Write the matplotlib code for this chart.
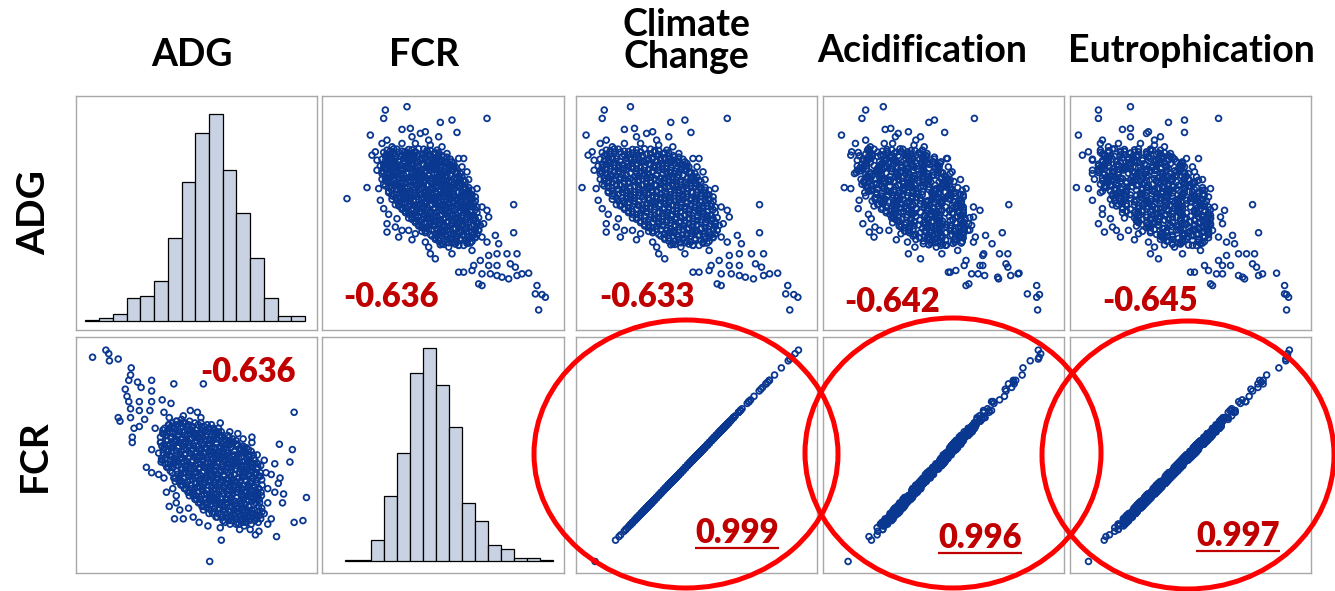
# Scatter plot matrix: ADG / FCR against environmental impacts
import numpy as np
import matplotlib
matplotlib.use("Agg")
import matplotlib.pyplot as plt
from matplotlib.patches import Ellipse

plt.rcParams['font.family'] = ['Lato', 'DejaVu Sans']

# ---- data (one entry per animal) ----
# FCR (kg feed / kg gain)
fcr = [
    2.38, 2.51, 2.37, 2.99, 2.71, 2.78, 2.81, 2.29, 2.48, 2.53,
    2.54, 2.59, 2.62, 2.70, 2.64, 2.15, 2.27, 2.34, 2.33, 2.32,
    2.30, 2.36, 2.39, 2.39, 2.39, 2.37, 2.40, 2.45, 2.54, 2.52,
    3.15, 3.15, 2.93, 2.87, 2.88, 2.85, 2.82, 3.00, 2.99, 3.04,
    3.06, 3.05, 3.11, 3.17, 3.00, 2.95, 3.00, 3.05, 3.13, 3.16,
    3.20, 3.24, 3.17, 3.12, 3.08, 3.05, 2.94, 2.96, 2.82, 2.85,
    2.91, 2.90, 2.96, 3.01, 2.78, 2.72, 2.68, 2.65, 2.64, 2.62,
    2.76, 2.82, 2.87, 2.90, 3.29, 3.28, 3.32, 3.34, 3.30, 2.92,
    2.96, 2.97, 2.94, 2.92, 2.96, 2.99, 2.69, 2.75, 2.78, 2.84,
    2.90, 2.46, 2.44, 2.48, 2.56, 2.60, 2.35, 2.36, 2.33, 2.42,
    2.48, 2.56, 2.65, 2.72,
    2.39, 2.43, 2.48, 2.52, 2.56, 2.61, 2.65,
    2.38, 2.42, 2.47, 2.51, 2.55, 2.60, 2.64, 2.68, 2.72, 2.75,
    2.37, 2.41, 2.45, 2.50, 2.54, 2.58, 2.63, 2.67, 2.71, 2.76, 2.79,
    2.39, 2.43, 2.47, 2.52, 2.56, 2.60, 2.65, 2.69, 2.73, 2.78, 2.81,
    2.38, 2.42, 2.46, 2.51, 2.55, 2.59, 2.64, 2.68, 2.72, 2.77, 2.81, 2.84,
    2.40, 2.44, 2.48, 2.53, 2.57, 2.61, 2.66, 2.70, 2.74, 2.79, 2.83, 2.86,
    2.40, 2.45, 2.49, 2.53, 2.58, 2.62, 2.66, 2.71, 2.75, 2.79, 2.84, 2.88,
    2.42, 2.47, 2.51, 2.55, 2.60, 2.64, 2.68, 2.73, 2.77, 2.81, 2.86, 2.90,
    2.44, 2.48, 2.53, 2.57, 2.61, 2.66, 2.70, 2.74, 2.79, 2.83, 2.87, 2.91,
    2.48, 2.52, 2.57, 2.61, 2.65, 2.70, 2.74, 2.78, 2.83, 2.87, 2.92,
    2.52, 2.56, 2.61, 2.65, 2.69, 2.74, 2.78, 2.82, 2.87, 2.91, 2.94,
    2.56, 2.60, 2.65, 2.69, 2.73, 2.78, 2.82, 2.86, 2.91, 2.95,
    2.60, 2.64, 2.69, 2.73, 2.77, 2.82, 2.86, 2.90, 2.94,
    2.66, 2.70, 2.75, 2.79, 2.83, 2.88, 2.92,
    2.71, 2.76, 2.80, 2.85, 2.89,
    2.37, 2.41, 2.46, 2.50, 2.54, 2.59, 2.63, 2.67, 2.70,
    2.36, 2.40, 2.44, 2.49, 2.53, 2.57, 2.62, 2.66, 2.70, 2.74, 2.77,
    2.35, 2.39, 2.43, 2.48, 2.52, 2.56, 2.61, 2.65, 2.69, 2.74, 2.78, 2.80,
    2.37, 2.41, 2.45, 2.49, 2.54, 2.58, 2.62, 2.67, 2.71, 2.75, 2.80, 2.83,
    2.36, 2.40, 2.46, 2.50, 2.55, 2.59, 2.63, 2.68, 2.72, 2.76, 2.81, 2.85,
    2.38, 2.42, 2.46, 2.51, 2.55, 2.59, 2.64, 2.68, 2.72, 2.77, 2.81, 2.85, 2.88,
    2.40, 2.43, 2.47, 2.51, 2.56, 2.60, 2.64, 2.69, 2.73, 2.77, 2.82, 2.86, 2.89,
    2.42, 2.45, 2.49, 2.53, 2.58, 2.62, 2.66, 2.71, 2.75, 2.79, 2.84, 2.88, 2.92,
    2.46, 2.50, 2.55, 2.59, 2.63, 2.68, 2.72, 2.76, 2.81, 2.85, 2.89, 2.93,
    2.50, 2.54, 2.59, 2.63, 2.67, 2.72, 2.76, 2.80, 2.85, 2.89, 2.93,
    2.54, 2.58, 2.63, 2.67, 2.71, 2.76, 2.80, 2.84, 2.89, 2.93,
    2.58, 2.62, 2.67, 2.71, 2.75, 2.80, 2.84, 2.88, 2.93,
    2.62, 2.68, 2.72, 2.77, 2.81, 2.85, 2.90, 2.93,
    2.68, 2.73, 2.77, 2.81, 2.86, 2.90,
    2.41, 2.45, 2.50, 2.54, 2.58, 2.63,
    2.39, 2.43, 2.48, 2.52, 2.56, 2.61, 2.65, 2.68,
    2.40, 2.44, 2.49, 2.53, 2.57, 2.62, 2.66, 2.70, 2.73,
    2.38, 2.42, 2.46, 2.51, 2.55, 2.59, 2.64, 2.68, 2.72, 2.75,
    2.39, 2.43, 2.47, 2.52, 2.56, 2.60, 2.65, 2.69, 2.73, 2.77,
    2.37, 2.41, 2.45, 2.50, 2.54, 2.58, 2.63, 2.67, 2.71, 2.76, 2.79,
    2.36, 2.41, 2.45, 2.49, 2.54, 2.58, 2.62, 2.67, 2.71, 2.75, 2.79,
    2.39, 2.43, 2.47, 2.51, 2.56, 2.60, 2.64, 2.69, 2.73, 2.77, 2.81,
    2.40, 2.44, 2.48, 2.53, 2.57, 2.61, 2.66, 2.70, 2.74, 2.79, 2.82,
    2.38, 2.43, 2.48, 2.52, 2.57, 2.61, 2.65, 2.70, 2.74, 2.78, 2.83,
    2.37, 2.42, 2.46, 2.50, 2.55, 2.59, 2.63, 2.68, 2.72, 2.76, 2.81, 2.84,
    2.40, 2.44, 2.48, 2.53, 2.57, 2.61, 2.66, 2.70, 2.74, 2.79, 2.83, 2.86,
    2.42, 2.47, 2.51, 2.55, 2.60, 2.64, 2.68, 2.73, 2.77, 2.81, 2.86,
    2.45, 2.49, 2.53, 2.58, 2.62, 2.66, 2.71, 2.75, 2.79, 2.84, 2.88,
    2.44, 2.49, 2.53, 2.57, 2.62, 2.66, 2.70, 2.75, 2.79, 2.83, 2.88,
    2.47, 2.51, 2.55, 2.60, 2.64, 2.68, 2.73, 2.77, 2.81, 2.86, 2.90,
    2.46, 2.50, 2.55, 2.59, 2.63, 2.68, 2.72, 2.76, 2.81, 2.85, 2.89,
    2.48, 2.52, 2.57, 2.61, 2.65, 2.70, 2.74, 2.78, 2.83, 2.87, 2.91,
    2.50, 2.54, 2.59, 2.63, 2.67, 2.72, 2.76, 2.80, 2.85, 2.89,
    2.52, 2.56, 2.61, 2.65, 2.69, 2.74, 2.78, 2.82, 2.87, 2.91,
    2.54, 2.58, 2.63, 2.67, 2.71, 2.76, 2.80, 2.84, 2.89, 2.92,
    2.56, 2.60, 2.65, 2.69, 2.73, 2.78, 2.82, 2.86, 2.91,
    2.58, 2.62, 2.67, 2.71, 2.75, 2.80, 2.84, 2.88, 2.93,
    2.60, 2.64, 2.69, 2.73, 2.77, 2.82, 2.86, 2.90,
    2.62, 2.66, 2.71, 2.75, 2.79, 2.84, 2.88, 2.92,
    2.65, 2.70, 2.74, 2.79, 2.83, 2.87, 2.91,
    2.68, 2.72, 2.77, 2.81, 2.85, 2.90,
    2.70, 2.75, 2.79, 2.83, 2.88,
    2.73, 2.78, 2.82, 2.87,
]

# ADG (kg / day)
adg = [
    1.158, 1.168, 1.133, 1.133, 1.121, 1.128, 1.091, 1.083, 1.100, 1.103,
    1.078, 1.088, 1.093, 1.078, 1.068, 0.893, 0.926, 0.923, 0.978, 1.033,
    1.023, 1.058, 1.068, 0.818, 0.793, 0.863, 0.846, 0.833, 0.770, 0.798,
    0.875, 0.791, 0.923, 0.973, 0.950, 1.013, 1.013, 0.838, 0.858, 0.783,
    0.758, 0.728, 0.728, 0.728, 0.723, 0.708, 0.693, 0.693, 0.698, 0.688,
    0.668, 0.670, 0.663, 0.653, 0.658, 0.663, 0.638, 0.633, 0.673, 0.673,
    0.693, 0.678, 0.668, 0.668, 0.728, 0.758, 0.713, 0.728, 0.748, 0.763,
    0.748, 0.753, 0.763, 0.738, 0.633, 0.608, 0.606, 0.598, 0.560, 0.898,
    0.868, 0.818, 0.798, 0.778, 0.778, 0.763, 1.038, 1.028, 1.003, 0.988,
    0.918, 0.778, 0.808, 0.798, 0.788, 0.808, 0.888, 0.968, 1.008, 1.048,
    1.058, 1.058, 1.053, 1.048,
    1.038, 1.042, 1.035, 1.040, 1.033, 1.041, 1.037,
    1.021, 1.014, 1.019, 1.016, 1.023, 1.013, 1.020, 1.015, 1.022, 1.017,
    0.996, 1.002, 0.994, 1.000, 0.997, 1.003, 0.993, 0.999, 1.001, 0.995, 0.998,
    0.981, 0.975, 0.979, 0.983, 0.974, 0.980, 0.977, 0.982, 0.976, 0.978, 0.972,
    0.955, 0.961, 0.957, 0.953, 0.960, 0.956, 0.962, 0.954, 0.959, 0.963, 0.952, 0.958,
    0.941, 0.935, 0.939, 0.943, 0.934, 0.940, 0.936, 0.942, 0.937, 0.933, 0.940, 0.944,
    0.915, 0.921, 0.917, 0.913, 0.920, 0.916, 0.922, 0.914, 0.919, 0.923, 0.912, 0.918,
    0.901, 0.895, 0.899, 0.903, 0.894, 0.900, 0.896, 0.902, 0.897, 0.893, 0.900, 0.904,
    0.875, 0.881, 0.877, 0.873, 0.880, 0.876, 0.882, 0.874, 0.879, 0.883, 0.872, 0.878,
    0.861, 0.855, 0.859, 0.863, 0.854, 0.860, 0.856, 0.862, 0.857, 0.853, 0.860,
    0.835, 0.841, 0.837, 0.833, 0.840, 0.836, 0.842, 0.834, 0.839, 0.843, 0.836,
    0.821, 0.815, 0.819, 0.823, 0.814, 0.820, 0.816, 0.822, 0.817, 0.813,
    0.795, 0.801, 0.797, 0.793, 0.800, 0.796, 0.802, 0.794, 0.799,
    0.781, 0.775, 0.779, 0.783, 0.774, 0.780, 0.776,
    0.755, 0.761, 0.757, 0.753, 0.760,
    1.031, 1.026, 1.032, 1.024, 1.029, 1.025, 1.033, 1.027, 1.030,
    1.011, 1.006, 1.012, 1.004, 1.009, 1.005, 1.013, 1.007, 1.010, 1.003, 1.011,
    0.991, 0.986, 0.992, 0.984, 0.989, 0.985, 0.993, 0.987, 0.990, 0.983, 0.991, 0.988,
    0.971, 0.966, 0.972, 0.964, 0.969, 0.965, 0.973, 0.967, 0.970, 0.963, 0.971, 0.968,
    0.951, 0.946, 0.952, 0.944, 0.949, 0.945, 0.953, 0.947, 0.950, 0.943, 0.951, 0.948,
    0.931, 0.926, 0.932, 0.924, 0.929, 0.925, 0.933, 0.927, 0.930, 0.923, 0.931, 0.928, 0.926,
    0.911, 0.906, 0.912, 0.904, 0.909, 0.905, 0.913, 0.907, 0.910, 0.903, 0.911, 0.908, 0.906,
    0.891, 0.886, 0.892, 0.884, 0.889, 0.885, 0.893, 0.887, 0.890, 0.883, 0.891, 0.888, 0.886,
    0.871, 0.866, 0.872, 0.864, 0.869, 0.865, 0.873, 0.867, 0.870, 0.863, 0.871, 0.868,
    0.851, 0.846, 0.852, 0.844, 0.849, 0.845, 0.853, 0.847, 0.850, 0.843, 0.851,
    0.831, 0.826, 0.832, 0.824, 0.829, 0.825, 0.833, 0.827, 0.830, 0.823,
    0.811, 0.806, 0.812, 0.804, 0.809, 0.805, 0.813, 0.807, 0.810,
    0.791, 0.786, 0.792, 0.784, 0.789, 0.785, 0.793, 0.787,
    0.771, 0.766, 0.772, 0.764, 0.769, 0.765,
    1.036, 1.041, 1.034, 1.039, 1.042, 1.037,
    1.026, 1.031, 1.024, 1.029, 1.032, 1.027, 1.025, 1.030,
    1.016, 1.021, 1.014, 1.019, 1.022, 1.017, 1.015, 1.020, 1.018,
    1.006, 1.011, 1.004, 1.009, 1.012, 1.007, 1.005, 1.010, 1.008, 1.003,
    0.996, 1.001, 0.994, 0.999, 1.002, 0.997, 0.995, 1.000, 0.998, 0.993,
    0.986, 0.991, 0.984, 0.989, 0.992, 0.987, 0.985, 0.990, 0.988, 0.983, 0.990,
    0.976, 0.981, 0.974, 0.979, 0.982, 0.977, 0.975, 0.980, 0.978, 0.973, 0.980,
    0.966, 0.971, 0.964, 0.969, 0.972, 0.967, 0.965, 0.970, 0.968, 0.963, 0.970,
    0.956, 0.961, 0.954, 0.959, 0.962, 0.957, 0.955, 0.960, 0.958, 0.953, 0.960,
    0.946, 0.951, 0.944, 0.949, 0.952, 0.947, 0.945, 0.950, 0.948, 0.943, 0.950,
    0.936, 0.941, 0.934, 0.939, 0.942, 0.937, 0.935, 0.940, 0.938, 0.933, 0.940, 0.936,
    0.926, 0.931, 0.924, 0.929, 0.932, 0.927, 0.925, 0.930, 0.928, 0.923, 0.930, 0.926,
    0.916, 0.921, 0.914, 0.919, 0.922, 0.917, 0.915, 0.920, 0.918, 0.913, 0.920,
    0.906, 0.911, 0.904, 0.909, 0.912, 0.907, 0.905, 0.910, 0.908, 0.903, 0.910,
    0.896, 0.901, 0.894, 0.899, 0.902, 0.897, 0.895, 0.900, 0.898, 0.893, 0.900,
    0.886, 0.891, 0.884, 0.889, 0.892, 0.887, 0.885, 0.890, 0.888, 0.883, 0.890,
    0.876, 0.881, 0.874, 0.879, 0.882, 0.877, 0.875, 0.880, 0.878, 0.873, 0.880,
    0.866, 0.871, 0.864, 0.869, 0.872, 0.867, 0.865, 0.870, 0.868, 0.863, 0.870,
    0.856, 0.861, 0.854, 0.859, 0.862, 0.857, 0.855, 0.860, 0.858, 0.853,
    0.846, 0.851, 0.844, 0.849, 0.852, 0.847, 0.845, 0.850, 0.848, 0.843,
    0.836, 0.841, 0.834, 0.839, 0.842, 0.837, 0.835, 0.840, 0.838, 0.833,
    0.826, 0.831, 0.824, 0.829, 0.832, 0.827, 0.825, 0.830, 0.828,
    0.816, 0.821, 0.814, 0.819, 0.822, 0.817, 0.815, 0.820, 0.818,
    0.806, 0.811, 0.804, 0.809, 0.812, 0.807, 0.805, 0.810,
    0.796, 0.801, 0.794, 0.799, 0.802, 0.797, 0.795, 0.800,
    0.786, 0.791, 0.784, 0.789, 0.792, 0.787, 0.785,
    0.776, 0.781, 0.774, 0.779, 0.782, 0.777,
    0.766, 0.771, 0.764, 0.769, 0.772,
    0.756, 0.761, 0.754, 0.759,
]

# Climate change (kg CO2-eq / kg)
climate = [
    3.56, 3.82, 3.54, 4.78, 4.22, 4.36, 4.42, 3.38, 3.76, 3.86,
    3.88, 3.98, 4.04, 4.20, 4.08, 3.10, 3.34, 3.48, 3.46, 3.44,
    3.40, 3.52, 3.58, 3.58, 3.58, 3.54, 3.60, 3.70, 3.88, 3.84,
    5.10, 5.10, 4.66, 4.54, 4.56, 4.50, 4.44, 4.80, 4.78, 4.88,
    4.92, 4.90, 5.02, 5.14, 4.80, 4.70, 4.80, 4.90, 5.06, 5.12,
    5.20, 5.28, 5.14, 5.04, 4.96, 4.90, 4.68, 4.72, 4.44, 4.50,
    4.62, 4.60, 4.72, 4.82, 4.36, 4.24, 4.16, 4.10, 4.08, 4.04,
    4.32, 4.44, 4.54, 4.60, 5.38, 5.36, 5.44, 5.48, 5.40, 4.64,
    4.72, 4.74, 4.68, 4.64, 4.72, 4.78, 4.18, 4.30, 4.36, 4.48,
    4.60, 3.72, 3.68, 3.76, 3.92, 4.00, 3.50, 3.52, 3.46, 3.64,
    3.76, 3.92, 4.10, 4.24,
    3.58, 3.66, 3.76, 3.84, 3.92, 4.02, 4.10,
    3.56, 3.64, 3.74, 3.82, 3.90, 4.00, 4.08, 4.16, 4.24, 4.30,
    3.54, 3.62, 3.70, 3.80, 3.88, 3.96, 4.06, 4.14, 4.22, 4.32, 4.38,
    3.58, 3.66, 3.74, 3.84, 3.92, 4.00, 4.10, 4.18, 4.26, 4.36, 4.42,
    3.56, 3.64, 3.72, 3.82, 3.90, 3.98, 4.08, 4.16, 4.24, 4.34, 4.42, 4.48,
    3.60, 3.68, 3.76, 3.86, 3.94, 4.02, 4.12, 4.20, 4.28, 4.38, 4.46, 4.52,
    3.60, 3.70, 3.78, 3.86, 3.96, 4.04, 4.12, 4.22, 4.30, 4.38, 4.48, 4.56,
    3.64, 3.74, 3.82, 3.90, 4.00, 4.08, 4.16, 4.26, 4.34, 4.42, 4.52, 4.60,
    3.68, 3.76, 3.86, 3.94, 4.02, 4.12, 4.20, 4.28, 4.38, 4.46, 4.54, 4.62,
    3.76, 3.84, 3.94, 4.02, 4.10, 4.20, 4.28, 4.36, 4.46, 4.54, 4.64,
    3.84, 3.92, 4.02, 4.10, 4.18, 4.28, 4.36, 4.44, 4.54, 4.62, 4.68,
    3.92, 4.00, 4.10, 4.18, 4.26, 4.36, 4.44, 4.52, 4.62, 4.70,
    4.00, 4.08, 4.18, 4.26, 4.34, 4.44, 4.52, 4.60, 4.68,
    4.12, 4.20, 4.30, 4.38, 4.46, 4.56, 4.64,
    4.22, 4.32, 4.40, 4.50, 4.58,
    3.54, 3.62, 3.72, 3.80, 3.88, 3.98, 4.06, 4.14, 4.20,
    3.52, 3.60, 3.68, 3.78, 3.86, 3.94, 4.04, 4.12, 4.20, 4.28, 4.34,
    3.50, 3.58, 3.66, 3.76, 3.84, 3.92, 4.02, 4.10, 4.18, 4.28, 4.36, 4.40,
    3.54, 3.62, 3.70, 3.78, 3.88, 3.96, 4.04, 4.14, 4.22, 4.30, 4.40, 4.46,
    3.52, 3.60, 3.72, 3.80, 3.90, 3.98, 4.06, 4.16, 4.24, 4.32, 4.42, 4.50,
    3.56, 3.64, 3.72, 3.82, 3.90, 3.98, 4.08, 4.16, 4.24, 4.34, 4.42, 4.50, 4.56,
    3.60, 3.66, 3.74, 3.82, 3.92, 4.00, 4.08, 4.18, 4.26, 4.34, 4.44, 4.52, 4.58,
    3.64, 3.70, 3.78, 3.86, 3.96, 4.04, 4.12, 4.22, 4.30, 4.38, 4.48, 4.56, 4.64,
    3.72, 3.80, 3.90, 3.98, 4.06, 4.16, 4.24, 4.32, 4.42, 4.50, 4.58, 4.66,
    3.80, 3.88, 3.98, 4.06, 4.14, 4.24, 4.32, 4.40, 4.50, 4.58, 4.66,
    3.88, 3.96, 4.06, 4.14, 4.22, 4.32, 4.40, 4.48, 4.58, 4.66,
    3.96, 4.04, 4.14, 4.22, 4.30, 4.40, 4.48, 4.56, 4.66,
    4.04, 4.16, 4.24, 4.34, 4.42, 4.50, 4.60, 4.66,
    4.16, 4.26, 4.34, 4.42, 4.52, 4.60,
    3.62, 3.70, 3.80, 3.88, 3.96, 4.06,
    3.58, 3.66, 3.76, 3.84, 3.92, 4.02, 4.10, 4.16,
    3.60, 3.68, 3.78, 3.86, 3.94, 4.04, 4.12, 4.20, 4.26,
    3.56, 3.64, 3.72, 3.82, 3.90, 3.98, 4.08, 4.16, 4.24, 4.30,
    3.58, 3.66, 3.74, 3.84, 3.92, 4.00, 4.10, 4.18, 4.26, 4.34,
    3.54, 3.62, 3.70, 3.80, 3.88, 3.96, 4.06, 4.14, 4.22, 4.32, 4.38,
    3.52, 3.62, 3.70, 3.78, 3.88, 3.96, 4.04, 4.14, 4.22, 4.30, 4.38,
    3.58, 3.66, 3.74, 3.82, 3.92, 4.00, 4.08, 4.18, 4.26, 4.34, 4.42,
    3.60, 3.68, 3.76, 3.86, 3.94, 4.02, 4.12, 4.20, 4.28, 4.38, 4.44,
    3.56, 3.66, 3.76, 3.84, 3.94, 4.02, 4.10, 4.20, 4.28, 4.36, 4.46,
    3.54, 3.64, 3.72, 3.80, 3.90, 3.98, 4.06, 4.16, 4.24, 4.32, 4.42, 4.48,
    3.60, 3.68, 3.76, 3.86, 3.94, 4.02, 4.12, 4.20, 4.28, 4.38, 4.46, 4.52,
    3.64, 3.74, 3.82, 3.90, 4.00, 4.08, 4.16, 4.26, 4.34, 4.42, 4.52,
    3.70, 3.78, 3.86, 3.96, 4.04, 4.12, 4.22, 4.30, 4.38, 4.48, 4.56,
    3.68, 3.78, 3.86, 3.94, 4.04, 4.12, 4.20, 4.30, 4.38, 4.46, 4.56,
    3.74, 3.82, 3.90, 4.00, 4.08, 4.16, 4.26, 4.34, 4.42, 4.52, 4.60,
    3.72, 3.80, 3.90, 3.98, 4.06, 4.16, 4.24, 4.32, 4.42, 4.50, 4.58,
    3.76, 3.84, 3.94, 4.02, 4.10, 4.20, 4.28, 4.36, 4.46, 4.54, 4.62,
    3.80, 3.88, 3.98, 4.06, 4.14, 4.24, 4.32, 4.40, 4.50, 4.58,
    3.84, 3.92, 4.02, 4.10, 4.18, 4.28, 4.36, 4.44, 4.54, 4.62,
    3.88, 3.96, 4.06, 4.14, 4.22, 4.32, 4.40, 4.48, 4.58, 4.64,
    3.92, 4.00, 4.10, 4.18, 4.26, 4.36, 4.44, 4.52, 4.62,
    3.96, 4.04, 4.14, 4.22, 4.30, 4.40, 4.48, 4.56, 4.66,
    4.00, 4.08, 4.18, 4.26, 4.34, 4.44, 4.52, 4.60,
    4.04, 4.12, 4.22, 4.30, 4.38, 4.48, 4.56, 4.64,
    4.10, 4.20, 4.28, 4.38, 4.46, 4.54, 4.62,
    4.16, 4.24, 4.34, 4.42, 4.50, 4.60,
    4.20, 4.30, 4.38, 4.46, 4.56,
    4.26, 4.36, 4.44, 4.54,
]

# Acidification (g SO2-eq / kg)
acid = [
    47.9, 49.8, 47.5, 59.6, 54.7, 55.3, 56.4, 45.3, 50.0, 50.6,
    51.1, 51.4, 52.5, 53.8, 53.3, 42.7, 45.6, 46.3, 47.0, 46.4,
    46.3, 46.8, 47.9, 47.6, 48.3, 47.1, 48.2, 48.5, 51.2, 50.4,
    63.3, 62.6, 58.7, 57.2, 58.1, 56.7, 56.6, 59.5, 60.2, 60.8,
    61.5, 60.6, 62.3, 63.2, 60.5, 58.7, 60.2, 60.5, 63.0, 63.2,
    64.3, 64.4, 63.5, 62.2, 62.1, 60.7, 59.0, 58.7, 56.8, 57.0,
    58.5, 57.6, 59.3, 60.0, 56.1, 54.1, 53.8, 52.5, 53.2, 52.4,
    55.5, 56.0, 57.5, 57.8, 66.3, 65.3, 66.6, 66.3, 66.4, 58.4,
    59.5, 59.0, 58.9, 58.2, 59.7, 59.5, 54.0, 54.5, 56.0, 56.8,
    58.3, 48.8, 48.9, 49.4, 51.7, 51.7, 47.2, 46.7, 47.0, 48.4,
    49.9, 50.8, 53.1, 54.2,
    48.1, 48.2, 49.7, 50.2, 51.7, 51.9, 53.2,
    47.2, 48.5, 49.2, 50.7, 50.7, 52.2, 52.3, 54.0, 54.4, 55.3,
    47.5, 48.0, 49.5, 49.7, 51.0, 51.1, 53.0, 53.4, 54.5, 54.8, 55.9,
    47.6, 49.1, 49.1, 50.6, 50.7, 52.4, 53.0, 54.1, 54.2, 55.7, 56.0,
    48.1, 48.1, 49.4, 49.7, 51.4, 51.8, 53.1, 53.2, 54.5, 55.2, 56.7, 56.5,
    47.7, 49.0, 49.1, 51.0, 51.4, 52.5, 52.8, 54.1, 54.6, 56.3, 56.3, 57.4,
    48.2, 48.5, 50.2, 50.6, 51.9, 52.0, 53.3, 54.0, 55.5, 55.5, 57.0, 57.1,
    47.9, 49.8, 50.2, 51.3, 51.6, 52.9, 53.4, 55.1, 55.1, 56.4, 56.7, 58.4,
    49.2, 49.6, 50.9, 51.0, 52.3, 53.0, 54.5, 54.5, 56.0, 56.1, 57.8, 58.2,
    49.6, 50.7, 51.0, 52.3, 52.8, 54.5, 54.5, 55.8, 56.1, 57.8, 58.4,
    50.7, 50.8, 52.3, 52.8, 54.3, 54.5, 55.8, 55.9, 57.8, 58.2, 59.1,
    50.8, 52.1, 52.8, 54.3, 54.3, 55.8, 55.9, 57.6, 58.2, 59.3,
    52.1, 52.6, 54.3, 54.3, 55.6, 55.9, 57.6, 58.0, 59.1,
    53.0, 54.5, 54.7, 56.0, 56.1, 58.0, 58.4,
    54.7, 54.9, 56.2, 56.5, 58.2,
    47.1, 48.6, 49.2, 49.5, 51.0, 52.1, 52.4, 53.9, 53.6,
    47.6, 48.0, 48.3, 50.0, 50.9, 51.2, 52.9, 52.8, 54.1, 55.1, 55.3,
    47.0, 47.3, 48.8, 49.9, 50.2, 51.7, 51.8, 53.1, 54.1, 54.7, 55.8, 55.7,
    46.9, 48.4, 49.3, 49.6, 51.3, 51.2, 52.5, 53.7, 54.1, 55.2, 55.7, 57.0,
    47.4, 48.3, 49.0, 50.5, 50.6, 51.9, 52.9, 53.5, 54.6, 54.9, 56.6, 57.0,
    47.9, 48.2, 49.7, 49.8, 51.1, 52.1, 52.7, 53.8, 54.1, 55.8, 56.2, 56.5, 57.8,
    47.8, 49.1, 49.0, 50.3, 51.5, 51.9, 53.0, 53.5, 55.0, 55.4, 55.9, 57.4, 58.1,
    48.9, 48.6, 49.9, 50.9, 51.5, 52.6, 52.9, 54.6, 55.0, 55.3, 57.0, 57.9, 58.2,
    48.8, 50.1, 51.3, 51.7, 52.8, 53.3, 54.8, 55.2, 55.7, 57.2, 58.1, 58.4,
    50.1, 51.1, 51.7, 52.8, 53.1, 54.8, 55.2, 55.5, 57.2, 58.1, 58.4,
    51.1, 51.5, 52.8, 53.1, 54.6, 55.2, 55.5, 57.0, 58.1, 58.4,
    51.5, 52.6, 53.1, 54.6, 55.0, 55.5, 57.0, 57.9, 58.4,
    52.6, 53.3, 54.8, 55.4, 55.7, 57.2, 58.3, 58.4,
    53.3, 55.0, 55.4, 55.7, 57.4, 58.3,
    48.3, 48.8, 50.2, 50.7, 51.6, 52.8,
    47.9, 48.4, 49.8, 50.3, 51.2, 52.4, 52.8, 53.7,
    48.1, 48.6, 50.0, 50.5, 51.4, 52.6, 53.0, 54.1, 54.5,
    47.7, 48.2, 49.4, 50.1, 51.0, 52.0, 52.6, 53.7, 54.3, 55.2,
    47.9, 48.4, 49.6, 50.3, 51.2, 52.2, 52.8, 53.9, 54.5, 55.6,
    47.5, 48.0, 49.2, 49.9, 50.8, 51.8, 52.4, 53.5, 54.1, 55.4, 55.8,
    47.3, 48.0, 49.2, 49.7, 50.8, 51.8, 52.2, 53.5, 54.1, 55.2, 55.8,
    47.9, 48.4, 49.6, 50.1, 51.2, 52.2, 52.6, 53.9, 54.5, 55.6, 56.2,
    48.1, 48.6, 49.8, 50.5, 51.4, 52.4, 53.0, 54.1, 54.7, 56.0, 56.4,
    47.7, 48.4, 49.8, 50.3, 51.4, 52.4, 52.8, 54.1, 54.7, 55.8, 56.6,
    47.5, 48.2, 49.4, 49.9, 51.0, 52.0, 52.4, 53.7, 54.3, 55.4, 56.2, 56.6,
    48.1, 48.6, 49.8, 50.5, 51.4, 52.4, 53.0, 54.1, 54.7, 56.0, 56.6, 57.0,
    48.5, 49.2, 50.4, 50.9, 52.0, 53.0, 53.4, 54.7, 55.3, 56.4, 57.2,
    49.1, 49.6, 50.8, 51.5, 52.4, 53.4, 54.0, 55.1, 55.7, 57.0, 57.6,
    48.9, 49.6, 50.8, 51.3, 52.4, 53.4, 53.8, 55.1, 55.7, 56.8, 57.6,
    49.5, 50.0, 51.2, 51.9, 52.8, 53.8, 54.4, 55.5, 56.1, 57.4, 58.0,
    49.3, 49.8, 51.2, 51.7, 52.6, 53.8, 54.2, 55.3, 56.1, 57.2, 57.8,
    49.7, 50.2, 51.6, 52.1, 53.0, 54.2, 54.6, 55.7, 56.5, 57.6, 58.2,
    50.1, 50.6, 52.0, 52.5, 53.4, 54.6, 55.0, 56.1, 56.9, 58.0,
    50.5, 51.0, 52.4, 52.9, 53.8, 55.0, 55.4, 56.5, 57.3, 58.4,
    50.9, 51.4, 52.8, 53.3, 54.2, 55.4, 55.8, 56.9, 57.7, 58.6,
    51.3, 51.8, 53.2, 53.7, 54.6, 55.8, 56.2, 57.3, 58.1,
    51.7, 52.2, 53.6, 54.1, 55.0, 56.2, 56.6, 57.7, 58.5,
    52.1, 52.6, 54.0, 54.5, 55.4, 56.6, 57.0, 58.1,
    52.5, 53.0, 54.4, 54.9, 55.8, 57.0, 57.4, 58.5,
    53.1, 53.8, 55.0, 55.7, 56.6, 57.6, 58.0,
    53.7, 54.2, 55.6, 56.1, 57.0, 58.2,
    54.1, 54.8, 56.0, 56.5, 57.6,
    54.7, 55.4, 56.6, 57.3,
]

# Eutrophication (g PO4-eq / kg)
eutro = [
    23.7, 25.3, 23.7, 29.7, 27.2, 28.0, 28.0, 22.7, 24.9, 25.3,
    25.3, 26.1, 26.2, 26.8, 26.5, 21.7, 22.6, 23.2, 23.4, 23.2,
    22.9, 23.8, 23.9, 23.7, 24.0, 23.9, 23.9, 24.3, 25.5, 25.2,
    31.4, 31.7, 29.3, 28.5, 28.9, 28.7, 28.1, 29.8, 30.0, 30.4,
    30.5, 30.7, 31.1, 31.5, 30.1, 29.7, 29.9, 30.3, 31.4, 31.6,
    31.9, 32.6, 31.7, 31.0, 30.9, 30.7, 29.3, 29.4, 28.3, 28.5,
    29.0, 29.2, 29.6, 29.9, 27.9, 27.4, 26.7, 26.3, 26.5, 26.2,
    27.5, 28.4, 28.7, 28.8, 33.0, 33.0, 33.1, 33.2, 33.1, 29.2,
    29.5, 29.9, 29.4, 29.0, 29.7, 30.1, 26.8, 27.3, 27.9, 28.4,
    28.9, 24.8, 24.4, 24.6, 25.7, 26.2, 23.4, 23.4, 23.4, 24.2,
    24.7, 25.8, 26.5, 27.0,
    23.8, 24.5, 24.8, 25.0, 25.7, 26.3, 26.4,
    24.0, 24.2, 24.5, 25.2, 25.7, 25.9, 26.2, 26.9, 27.2, 27.4,
    23.7, 23.9, 24.6, 25.2, 25.3, 25.6, 26.4, 26.7, 27.0, 27.8, 27.9,
    23.7, 24.4, 24.9, 25.1, 25.4, 26.1, 26.5, 26.8, 27.5, 27.8, 27.9,
    23.9, 24.4, 24.5, 24.9, 25.6, 25.9, 26.2, 27.0, 27.2, 27.6, 28.2, 28.6,
    24.2, 24.3, 24.6, 25.4, 25.7, 26.0, 26.8, 27.0, 27.2, 28.0, 28.5, 28.5,
    23.9, 24.5, 25.1, 25.1, 25.9, 26.4, 26.5, 27.1, 27.3, 28.0, 28.4, 29.0,
    24.4, 24.5, 25.1, 25.6, 25.9, 26.6, 26.8, 27.1, 27.8, 28.3, 28.5, 29.0,
    24.4, 24.9, 25.1, 25.9, 26.1, 26.5, 27.1, 27.6, 27.7, 28.3, 28.8, 29.0,
    24.9, 25.1, 25.9, 26.1, 26.3, 27.1, 27.4, 27.7, 28.5, 28.5, 29.3,
    25.0, 25.7, 26.1, 26.7, 26.8, 27.4, 27.9, 28.0, 28.7, 29.3, 29.3,
    25.7, 26.2, 26.4, 26.7, 27.3, 27.9, 28.1, 28.8, 29.1, 29.3,
    25.9, 26.5, 27.1, 27.1, 27.7, 28.3, 28.5, 29.2, 29.2,
    26.8, 27.0, 27.4, 28.0, 28.1, 29.0, 29.2,
    27.0, 27.8, 27.8, 28.6, 28.9,
    23.8, 23.9, 24.8, 25.0, 25.3, 26.1, 26.1, 26.8, 27.0,
    23.4, 24.2, 24.4, 24.8, 25.5, 25.5, 26.3, 26.6, 26.9, 27.6, 27.5,
    23.7, 23.9, 24.2, 25.0, 25.0, 25.7, 26.1, 26.4, 27.1, 27.2, 27.9, 28.0,
    23.7, 24.0, 24.7, 24.7, 25.5, 25.8, 26.1, 26.9, 26.9, 27.6, 28.0, 28.2,
    23.5, 24.2, 24.4, 25.1, 25.5, 25.8, 26.5, 26.6, 27.3, 27.6, 28.0, 28.7,
    24.0, 24.0, 24.7, 25.1, 25.4, 26.1, 26.2, 26.9, 27.2, 27.6, 28.3, 28.3, 28.9,
    23.8, 24.4, 24.7, 25.0, 25.8, 25.8, 26.5, 26.9, 27.2, 27.9, 28.0, 28.7, 28.9,
    24.3, 24.5, 24.8, 25.5, 25.6, 26.3, 26.6, 27.0, 27.7, 27.7, 28.5, 28.8, 29.1,
    24.6, 24.9, 25.7, 25.7, 26.4, 26.8, 27.1, 27.8, 27.9, 28.6, 28.9, 29.2,
    24.9, 25.6, 25.7, 26.4, 26.7, 27.1, 27.8, 27.8, 28.6, 28.9, 29.2,
    25.6, 25.6, 26.4, 26.7, 27.0, 27.8, 27.8, 28.5, 28.9, 29.2,
    25.6, 26.3, 26.7, 27.0, 27.7, 27.8, 28.5, 28.8, 29.2,
    26.3, 26.8, 27.1, 27.9, 27.9, 28.6, 29.0, 29.2,
    26.8, 27.2, 27.9, 27.9, 28.7, 29.0,
    24.2, 24.4, 25.0, 25.5, 25.7, 26.3,
    24.0, 24.2, 24.8, 25.3, 25.5, 26.1, 26.6, 26.7,
    24.1, 24.3, 24.9, 25.4, 25.6, 26.2, 26.7, 26.9, 27.3,
    23.9, 24.1, 24.6, 25.2, 25.4, 25.9, 26.5, 26.7, 27.2, 27.6,
    24.0, 24.2, 24.7, 25.3, 25.5, 26.0, 26.6, 26.8, 27.3, 27.8,
    23.8, 24.0, 24.5, 25.1, 25.3, 25.8, 26.4, 26.6, 27.1, 27.7, 27.8,
    23.7, 24.0, 24.5, 25.0, 25.3, 25.8, 26.3, 26.6, 27.1, 27.6, 27.8,
    24.0, 24.2, 24.7, 25.2, 25.5, 26.0, 26.5, 26.8, 27.3, 27.8, 28.0,
    24.1, 24.3, 24.8, 25.4, 25.6, 26.1, 26.7, 26.9, 27.4, 28.0, 28.1,
    23.9, 24.2, 24.8, 25.3, 25.6, 26.1, 26.6, 26.9, 27.4, 27.9, 28.2,
    23.8, 24.1, 24.6, 25.1, 25.4, 25.9, 26.4, 26.7, 27.2, 27.7, 28.0, 28.4,
    24.1, 24.3, 24.8, 25.4, 25.6, 26.1, 26.7, 26.9, 27.4, 28.0, 28.2, 28.6,
    24.3, 24.6, 25.1, 25.6, 25.9, 26.4, 26.9, 27.2, 27.7, 28.2, 28.5,
    24.6, 24.8, 25.3, 25.9, 26.1, 26.6, 27.2, 27.4, 27.9, 28.5, 28.7,
    24.5, 24.8, 25.3, 25.8, 26.1, 26.6, 27.1, 27.4, 27.9, 28.4, 28.7,
    24.8, 25.0, 25.5, 26.1, 26.3, 26.8, 27.4, 27.6, 28.1, 28.7, 28.9,
    24.7, 24.9, 25.5, 26.0, 26.2, 26.8, 27.3, 27.5, 28.1, 28.6, 28.8,
    24.9, 25.1, 25.7, 26.2, 26.4, 27.0, 27.5, 27.7, 28.3, 28.8, 29.0,
    25.1, 25.3, 25.9, 26.4, 26.6, 27.2, 27.7, 27.9, 28.5, 29.0,
    25.3, 25.5, 26.1, 26.6, 26.8, 27.4, 27.9, 28.1, 28.7, 29.2,
    25.5, 25.7, 26.3, 26.8, 27.0, 27.6, 28.1, 28.3, 28.9, 29.3,
    25.7, 25.9, 26.5, 27.0, 27.2, 27.8, 28.3, 28.5, 29.1,
    25.9, 26.1, 26.7, 27.2, 27.4, 28.0, 28.5, 28.7, 29.3,
    26.1, 26.3, 26.9, 27.4, 27.6, 28.2, 28.7, 28.9,
    26.3, 26.5, 27.1, 27.6, 27.8, 28.4, 28.9, 29.1,
    26.6, 26.9, 27.4, 28.0, 28.2, 28.7, 29.2,
    26.9, 27.1, 27.7, 28.2, 28.4, 29.0,
    27.1, 27.4, 27.9, 28.4, 28.7,
    27.4, 27.7, 28.2, 28.8,
]

# histogram counts on the diagonal
adg_counts = [1, 2, 6, 21, 23, 37, 78, 130, 176, 194, 141, 101, 59, 21, 4, 4]
fcr_counts = [1, 1, 20, 63, 105, 182, 206, 170, 130, 56, 39, 15, 12, 3, 3, 1]

col_titles = ['ADG', 'FCR', 'Climate\nChange', 'Acidification', 'Eutrophication']
row_titles = ['ADG', 'FCR']

# correlations shown in the cells
r_adg = ['-0.636', '-0.633', '-0.642', '-0.645']
r_fcr = ['0.999', '0.996', '0.997']

# ---- layout ----
W, H = 1335, 591
col_px = [(76, 317), (322, 564), (576, 817), (823, 1064), (1070, 1311)]
row_px = [(96, 330), (337, 573)]

blue = '#0a3790'
dark_red = '#c00000'
hist_fill = '#c8d2e2'
frame = '#a8a8a8'

fig = plt.figure(figsize=(W / 100, H / 100), dpi=100)


def make_panel(row, col):
    l, r = col_px[col]
    t, b = row_px[row]
    ax = fig.add_axes([l / W, 1 - b / H, (r - l) / W, (b - t) / H])
    ax.set_xticks([])
    ax.set_yticks([])
    for s in ax.spines.values():
        s.set_color(frame)
        s.set_linewidth(1.0)
    return ax


def dots(ax, x, y):
    ax.scatter(x, y, s=17, facecolors='none', edgecolors=blue, linewidths=1.3)


# row 1: ADG on y
ax = make_panel(0, 0)
ax.bar(0.54 + 0.039 * np.arange(len(adg_counts)), adg_counts, width=0.039,
       align='edge', color=hist_fill, edgecolor='black', linewidth=0.9)
ax.set_xlim(0.513, 1.198)
ax.set_ylim(-8.8, 210.9)

row1_x = [(fcr, (2.0, 3.452)), (climate, (3.28, 5.67)),
          (acid, (43.31, 69.24)), (eutro, (22.28, 34.32))]
for i, (xv, lim) in enumerate(row1_x):
    ax = make_panel(0, i + 1)
    dots(ax, xv, adg)
    ax.set_xlim(*lim)
    ax.set_ylim(0.5, 1.2)

# row 2: FCR on y
ax = make_panel(1, 0)
dots(ax, adg, fcr)
ax.set_xlim(0.513, 1.198)
ax.set_ylim(2.085, 3.414)

ax = make_panel(1, 1)
ax.bar(2.14 + 0.078 * np.arange(len(fcr_counts)), fcr_counts, width=0.078,
       align='edge', color=hist_fill, edgecolor='black', linewidth=0.9)
ax.set_xlim(2.0, 3.452)
ax.set_ylim(-11.7, 216.9)

row2_x = [(climate, (2.877, 5.697)), (acid, (39.59, 69.49)), (eutro, (20.64, 34.44))]
for i, (xv, lim) in enumerate(row2_x):
    ax = make_panel(1, i + 2)
    dots(ax, xv, fcr)
    ax.set_xlim(*lim)
    ax.set_ylim(2.085, 3.414)

# ---- overlay in pixel units for labels and circles ----
ov = fig.add_axes([0, 0, 1, 1])
ov.set_xlim(0, W)
ov.set_ylim(H, 0)
ov.axis('off')
ov.patch.set_alpha(0)
ov.set_zorder(10)

head = dict(fontsize=27, fontweight='bold', color='black', ha='center', va='baseline')
ov.text(192, 66, col_titles[0], **head)
ov.text(424, 66, col_titles[1], **head)
ov.text(686, 36, col_titles[2].split('\n')[0], **head)
ov.text(686, 68, col_titles[2].split('\n')[1], **head)
ov.text(922, 62, col_titles[3], **head)
ov.text(1191, 62, col_titles[4], **head)

ov.text(34, 213, row_titles[0], fontsize=28, fontweight='bold', rotation=90,
        ha='center', va='center')
ov.text(34, 456, row_titles[1], fontsize=28, fontweight='bold', rotation=90,
        ha='center', va='center')

num = dict(fontsize=23.5, fontweight='heavy', color=dark_red, ha='left', va='baseline')
ov.text(343, 307, r_adg[0], **num)
ov.text(599, 307, r_adg[1], **num)
ov.text(844, 312, r_adg[2], **num)
ov.text(1102, 311, r_adg[3], **num)
ov.text(200, 382, r_adg[0], **num)

under = []
for x, y, s in [(695, 543, r_fcr[0]), (938, 548, r_fcr[1]), (1196, 546, r_fcr[2])]:
    under.append((ov.text(x, y, s, **num), y))

# red circles around the FCR - impact cells
for cx, cy, w, h in [(686, 454, 304, 268), (953, 453, 296, 270), (1188, 455, 292, 268)]:
    ov.add_patch(Ellipse((cx, cy), w, h, fill=False, edgecolor='#ff0000',
                         linewidth=3.6, clip_on=False))

# underline the r values
fig.canvas.draw()
for t, y in under:
    bb = t.get_window_extent()
    ov.plot([bb.x0, bb.x1], [y + 5, y + 5], color=dark_red, linewidth=1.6,
            solid_capstyle='butt')

fig.savefig('out.png', dpi=100)
